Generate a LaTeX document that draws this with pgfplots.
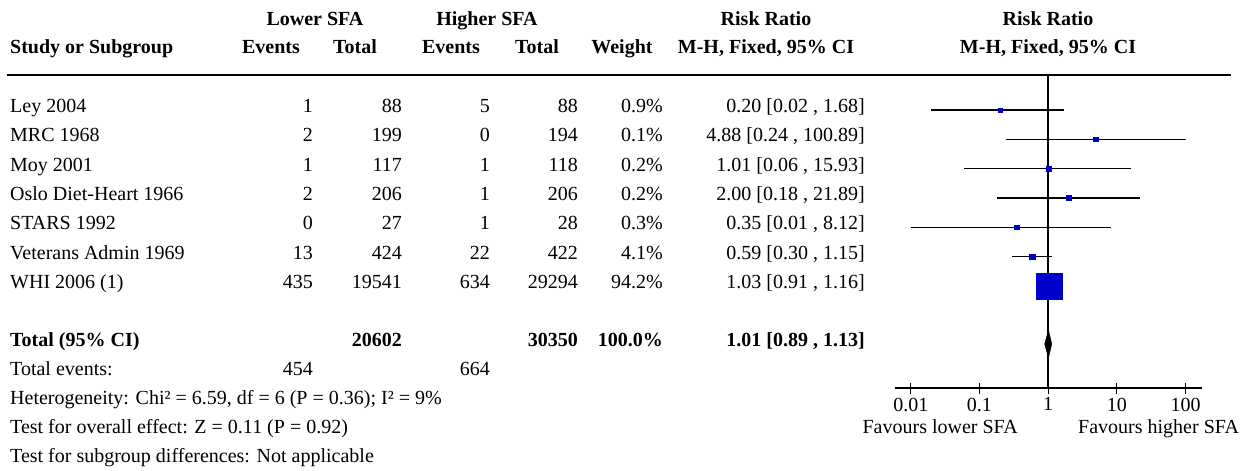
\documentclass[border=0pt]{standalone}
\usepackage{pgfplots}
\pgfplotsset{compat=1.18}
\usepackage{fontspec}
\setmainfont{Liberation Serif}
\definecolor{sq}{RGB}{0,0,204}
\newcommand{\fs}{\fontsize{20}{24}\selectfont}
\newcommand{\R}[8]{%
  \node[anchor=base west] at (10pt,#1) {#2};
  \node[anchor=base east] at (313pt,#1) {#3};
  \node[anchor=base east] at (402pt,#1) {#4};
  \node[anchor=base east] at (490pt,#1) {#5};
  \node[anchor=base east] at (578pt,#1) {#6};
  \node[anchor=base east] at (663pt,#1) {#7};
  \node[anchor=base east] at (865pt,#1) {#8};}
\begin{document}
\begin{tikzpicture}[font=\fs, inner sep=0pt]
\path[use as bounding box] (0,0) rectangle (1251pt,-471pt);
% headers
\begin{scope}[font=\fs\bfseries]
\node[anchor=base] at (315pt,-25pt) {Lower SFA};
\node[anchor=base] at (487pt,-25pt) {Higher SFA};
\node[anchor=base] at (766pt,-25pt) {Risk Ratio};
\node[anchor=base] at (1048pt,-25pt) {Risk Ratio};
\node[anchor=base west] at (10pt,-53pt) {Study or Subgroup};
\node[anchor=base] at (271pt,-53pt) {Events};
\node[anchor=base] at (355pt,-53pt) {Total};
\node[anchor=base] at (451pt,-53pt) {Events};
\node[anchor=base] at (537pt,-53pt) {Total};
\node[anchor=base] at (622pt,-53pt) {Weight};
\node[anchor=base] at (766pt,-53pt) {M-H, Fixed, 95\% CI};
\node[anchor=base] at (1048pt,-53pt) {M-H, Fixed, 95\% CI};
\end{scope}
\draw[line width=1.6pt] (7pt,-75pt) -- (1231pt,-75pt);
% rows
\R{-112.5pt}{Ley 2004}{1}{88}{5}{88}{0.9\%}{0.20 [0.02 , 1.68]}
\R{-141.8pt}{MRC 1968}{2}{199}{0}{194}{0.1\%}{4.88 [0.24 , 100.89]}
\R{-171.1pt}{Moy 2001}{1}{117}{1}{118}{0.2\%}{1.01 [0.06 , 15.93]}
\R{-200.4pt}{Oslo Diet-Heart 1966}{2}{206}{1}{206}{0.2\%}{2.00 [0.18 , 21.89]}
\R{-229.7pt}{STARS 1992}{0}{27}{1}{28}{0.3\%}{0.35 [0.01 , 8.12]}
\R{-259.0pt}{Veterans Admin 1969}{13}{424}{22}{422}{4.1\%}{0.59 [0.30 , 1.15]}
\R{-288.3pt}{WHI 2006 (1)}{435}{19541}{634}{29294}{94.2\%}{1.03 [0.91 , 1.16]}
\begin{scope}[font=\fs\bfseries]
\R{-346pt}{Total (95\% CI)}{}{20602}{}{30350}{100.0\%}{1.01 [0.89 , 1.13]}
\end{scope}
\node[anchor=base west] at (10pt,-375pt) {Total events:};
\node[anchor=base east] at (313pt,-375pt) {454};
\node[anchor=base east] at (490pt,-375pt) {664};
\node[anchor=base west] at (10pt,-404pt) {Heterogeneity: Chi² = 6.59, df = 6 (P = 0.36); I² = 9\%};
\node[anchor=base west] at (10pt,-433pt) {Test for overall effect: Z = 0.11 (P = 0.92)};
\node[anchor=base west] at (10pt,-462pt) {Test for subgroup differences: Not applicable};
\node[anchor=base east] at (1018pt,-433pt) {Favours lower SFA};
\node[anchor=base west] at (1078pt,-433pt) {Favours higher SFA};
\begin{axis}[at={(895pt,-388pt)}, anchor=south west, scale only axis,
  width=307pt, height=313pt, xmode=log, xmin=0.00589, xmax=173.8,
  ymin=-388, ymax=-75, axis x line=bottom, axis y line=none,
  x axis line style={-, line width=1.3pt},
  xtick={0.01,0.1,1,10,100}, xticklabels={0.01,0.1,1,10,100},
  minor tick length=0pt, tick align=center, major tick length=11pt,
  major tick style={line width=1.3pt, black},
  xticklabel style={font=\fs, inner sep=0pt, yshift=-4pt},
  clip=false]
\addplot[black, line width=1.6pt] coordinates {(1,-75) (1,-388)};
\addplot[black, line width=1.3pt] coordinates {(0.02,-110) (1.68,-110)};
\addplot[black, line width=1.3pt] coordinates {(0.24,-139.3) (100.89,-139.3)};
\addplot[black, line width=1.3pt] coordinates {(0.06,-168.6) (15.93,-168.6)};
\addplot[black, line width=1.3pt] coordinates {(0.18,-197.9) (21.89,-197.9)};
\addplot[black, line width=1.3pt] coordinates {(0.01,-227.2) (8.12,-227.2)};
\addplot[black, line width=1.3pt] coordinates {(0.30,-256.5) (1.15,-256.5)};
\addplot[black, line width=1.3pt] coordinates {(0.91,-285.8) (1.16,-285.8)};
\addplot[only marks, mark=square*, mark size=2.3pt, sq, mark options={draw=none}] coordinates {(0.20,-110) (4.88,-139.3) (1.01,-168.6) (2.00,-197.9) (0.35,-227.2)};
\addplot[only marks, mark=square*, mark size=2.8pt, sq, mark options={draw=none}] coordinates {(0.59,-256.5)};
\addplot[only marks, mark=square*, mark size=13pt, sq, mark options={draw=none}] coordinates {(1.03,-285.8)};
\addplot[black, line width=1.3pt] coordinates {(1,-75) (1,-388)};
\addplot[fill=black, draw=black] coordinates {(0.89,-344) (1.01,-330) (1.13,-344) (1.01,-358)} -- cycle;
\end{axis}
\end{tikzpicture}
\end{document}
